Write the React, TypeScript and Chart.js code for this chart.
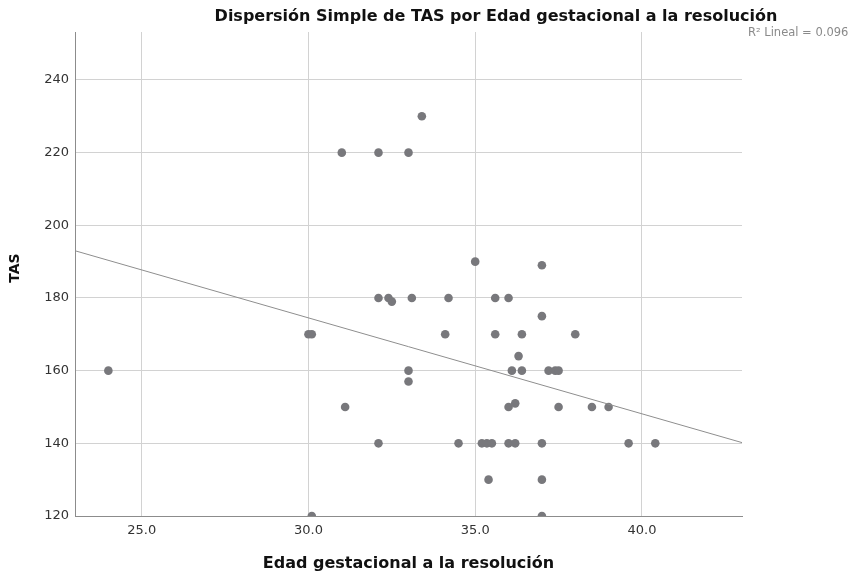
import React, { useEffect, useRef } from 'react';
import { Chart, registerables } from 'chart.js';

Chart.register(...registerables);

// ---- Data ----
const edadGestacional = [
  24.0, 30.0, 30.1, 30.1, 31.0, 32.1, 33.0, 33.4, 32.1, 32.4, 32.5, 33.1, 34.2, 34.1, 33.0, 33.0, 31.1,
  32.1, 34.5, 35.2, 35.35, 35.5, 36.0, 36.2, 37.0, 39.6, 40.4, 35.4, 37.0, 37.0, 36.0, 36.2, 37.5, 38.5,
  39.0, 35.0, 37.0, 35.6, 36.0, 37.0, 35.6, 36.4, 38.0, 36.3, 36.1, 36.4, 37.2, 37.4, 37.5,
];
const tas = [
  160, 170, 170, 120, 220, 220, 220, 230, 180, 180, 179, 180, 180, 170, 160, 157, 150,
  140, 140, 140, 140, 140, 140, 140, 140, 140, 140, 130, 130, 120, 150, 151, 150, 150,
  150, 190, 189, 180, 180, 175, 170, 170, 170, 164, 160, 160, 160, 160, 160,
];
const fitLineX = [23, 43];
const fitLineY = [193.0, 140.2];
const xTicks = [25, 30, 35, 40];
const yTicks = [120, 140, 160, 180, 200, 220, 240];
const xRange = [23, 43];
const yRange = [120, 253.2];

const chartTitle = 'Dispersión Simple de TAS por Edad gestacional a la resolución';
const xTitle = 'Edad gestacional a la resolución';
const yTitle = 'TAS';
const r2Label = 'R² Lineal = 0.096';

const FONT = '"DejaVu Sans", sans-serif';

const textPlugin = {
  id: 'spssTexts',
  afterDraw(chart: any) {
    const ctx = chart.ctx;
    const area = chart.chartArea;
    ctx.save();
    ctx.fillStyle = '#111111';
    ctx.font = `bold 16px ${FONT}`;
    ctx.textAlign = 'center';
    ctx.textBaseline = 'alphabetic';
    ctx.fillText(chartTitle, 496, 21);
    ctx.fillText(xTitle, (area.left + area.right) / 2, 568);
    ctx.save();
    ctx.font = `bold 14px ${FONT}`;
    ctx.translate(19, (area.top + area.bottom) / 2 - 6);
    ctx.rotate(-Math.PI / 2);
    ctx.fillText(yTitle, 0, 0);
    ctx.restore();
    ctx.fillStyle = '#8a8a8a';
    ctx.font = `11.5px ${FONT}`;
    ctx.textAlign = 'left';
    ctx.fillText(r2Label, 748, 36);
    ctx.restore();
  },
};

export default function App() {
  const ref = useRef<HTMLCanvasElement | null>(null);
  useEffect(() => {
    if (!ref.current) return;
    const points = edadGestacional.map((x, i) => ({ x, y: tas[i] }));
    const line = fitLineX.map((x, i) => ({ x, y: fitLineY[i] }));
    const chart = new Chart(ref.current, {
      type: 'scatter',
      data: {
        datasets: [
          {
            type: 'line',
            data: line,
            borderColor: '#8e8e8e',
            borderWidth: 1,
            pointRadius: 0,
            fill: false,
            order: 0,
            clip: 0,
          } as any,
          {
            type: 'scatter',
            data: points,
            backgroundColor: 'rgb(120,120,124)',
            borderWidth: 0,
            pointRadius: 4.3,
            order: 1,
            clip: 0,
          } as any,
        ],
      },
      plugins: [textPlugin],
      options: {
        animation: false,
        responsive: false,
        events: [],
        layout: { padding: { top: 32, right: 115, left: 0, bottom: 0 } },
        plugins: {
          legend: { display: false },
          title: { display: false },
          tooltip: { enabled: false },
        },
        scales: {
          x: {
            type: 'linear',
            min: xRange[0],
            max: xRange[1],
            afterFit: (s: any) => {
              s.height = 62;
            },
            afterBuildTicks: (s: any) => {
              s.ticks = xTicks.map((v) => ({ value: v }));
            },
            grid: { color: '#d2d2d2', lineWidth: 1, drawTicks: false },
            border: { color: '#8c8c8c', width: 1 },
            ticks: {
              padding: 7,
              color: '#333333',
              font: { family: FONT, size: 13 },
              callback: (v: any) => Number(v).toFixed(1),
            },
          },
          y: {
            type: 'linear',
            min: yRange[0],
            max: yRange[1],
            afterFit: (s: any) => {
              s.width = 75;
            },
            afterBuildTicks: (s: any) => {
              s.ticks = yTicks.map((v) => ({ value: v }));
            },
            grid: { color: '#d2d2d2', lineWidth: 1, drawTicks: false },
            border: { color: '#8c8c8c', width: 1 },
            ticks: {
              padding: 6,
              color: '#333333',
              font: { family: FONT, size: 13 },
              callback: (v: any) => String(v),
            },
          },
        },
      } as any,
    });
    return () => chart.destroy();
  }, []);
  return (
    <div style={{ position: 'absolute', left: 0, top: 0, width: 857, height: 578, background: '#ffffff' }}>
      <canvas ref={ref} width={857} height={578} style={{ display: 'block', width: 857, height: 578 }} />
    </div>
  );
}
